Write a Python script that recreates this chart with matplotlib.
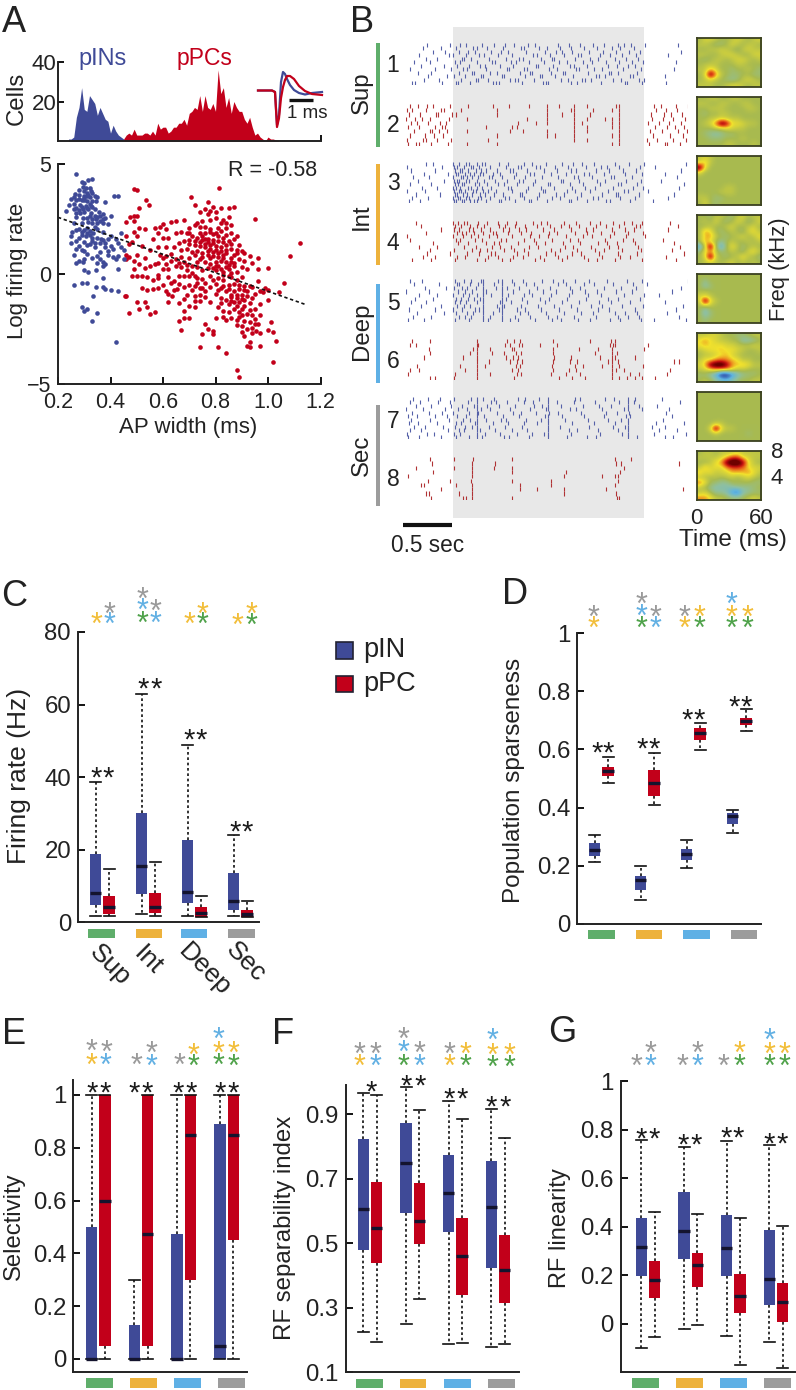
#!/usr/bin/env python3
import numpy as np
from matplotlib import pyplot as plt
from matplotlib.colors import LinearSegmentedColormap
from matplotlib.patches import Rectangle

plt.rcParams['font.family'] = ['Liberation Sans', 'DejaVu Sans']

W, H = 796, 1390
BLUE, RED = '#3F4A97', '#C2001A'
GROUP_COLORS = ['#5FAE6B', '#EDB23C', '#5FB0E5', '#9C9C9C']
STAR = {'y': '#F2BE3A', 'gr': '#9A9A9A', 'bl': '#62B0E3', 'g': '#4FA24A'}
TXT = '#222222'

# ---- panel A: histogram
hist_pin = [1, 1, 2, 12, 17, 27, 16, 15, 23, 21, 19, 13, 17, 14, 11, 10, 4, 8, 5, 3, 2, 1]     # from 0.24
hist_ppc = [1, 3, 4, 3, 6, 3, 3, 3, 4, 4, 3, 5, 3, 9, 6, 7, 7, 4, 5, 7, 7, 9, 9, 11, 8, 14, 15, 17, 16, 23,
            15, 23, 17, 16, 19, 15, 36, 24, 27, 17, 22, 14, 20, 17, 15, 15, 11, 9, 12, 7, 3, 4, 2, 1, 0,
            2, 1, 1, 0.5, 0.3]     # from 0.45

# ---- panel A: scatter
pin_points = [(.27, 4.55), (.33, 4.3), (.315, 4.25), (.29, 4.2), (.30, 4.15), (.295, 3.95), (.305, 3.9), (.32, 3.9),
              (.325, 3.75), (.31, 3.7), (.33, 3.7), (.28, 3.6), (.265, 3.65), (.30, 3.55), (.32, 3.5), (.35, 3.5),
              (.415, 3.55), (.43, 3.55), (.25, 3.4), (.27, 3.35), (.29, 3.35), (.31, 3.3), (.33, 3.3), (.345, 3.3),
              (.26, 3.2), (.285, 3.15), (.305, 3.1), (.325, 3.1), (.24, 3.15), (.38, 3.25), (.27, 3.0), (.295, 2.95),
              (.315, 2.95), (.34, 2.95), (.30, 2.8), (.285, 2.75), (.325, 2.75), (.355, 2.8), (.37, 2.7), (.23, 2.85),
              (.40, 2.65), (.27, 2.6), (.31, 2.55), (.345, 2.5), (.38, 2.55), (.36, 2.4), (.37, 2.3), (.39, 2.25),
              (.29, 2.3), (.33, 2.3), (.31, 2.1), (.35, 2.05), (.27, 2.0), (.255, 1.9), (.29, 1.9), (.335, 1.85),
              (.37, 1.9), (.32, 1.75), (.305, 1.7), (.28, 1.65), (.35, 1.65), (.39, 1.6), (.40, 1.7), (.44, 1.85),
              (.25, 1.7), (.27, 1.5), (.30, 1.45), (.33, 1.5), (.36, 1.4), (.42, 1.6), (.43, 1.4), (.28, 1.25),
              (.34, 1.2), (.38, 1.2), (.40, 1.25), (.45, 1.1), (.30, 1.05), (.36, 1.0), (.26, .85), (.35, .8),
              (.39, .85), (.41, .75), (.43, .8), (.28, .6), (.30, .65), (.33, .7), (.37, .55), (.38, .45), (.42, .65),
              (.45, .65), (.27, .5), (.295, .55), (.37, .35), (.345, .15), (.43, .2), (.30, .15), (.315, .1),
              (.37, -.2), (.26, -.5), (.29, -.4), (.31, -.4), (.345, -.6), (.37, -.6), (.38, -.7), (.40, -.75),
              (.43, -.8), (.335, -1.0), (.31, -1.6), (.29, -1.5), (.30, -1.7), (.35, -1.8), (.33, -2.15), (.42, -3.1),
              (.28, 3.8), (.30, 3.45), (.26, 2.95), (.34, 2.65), (.28, 2.05), (.32, 1.95), (.365, 1.6), (.31, 1.3),
              (.30, 3.35), (.31, 3.55), (.32, 3.2), (.29, 3.05), (.31, 3.0), (.33, 3.05), (.28, 2.9), (.32, 2.65),
              (.33, 2.5), (.35, 2.6), (.37, 2.5), (.36, 2.65), (.35, 2.3), (.34, 2.15), (.30, 2.0), (.29, 1.75),
              (.31, 1.85), (.33, 1.65), (.34, 1.4), (.37, 1.55), (.38, 1.4), (.32, 1.35), (.29, 1.1), (.31, .9),
              (.39, 1.05), (.41, 1.15), (.36, .65), (.35, .5), (.28, 3.4), (.26, 3.5), (.30, 3.75), (.315, 3.6),
              (.34, 3.55), (.27, 2.75), (.295, 2.55), (.315, 2.35), (.26, 2.3), (.25, 1.4), (.44, 1.2), (.27, 1.15)]

ppc_points = [(.49, 3.85), (.50, 3.8), (.815, 3.9), (.705, 3.5), (.535, 3.35), (.545, 3.15), (.51, 3.0), (.46, 2.35),
              (.475, 2.6), (.49, 2.65), (.50, 2.65), (.49, 2.4), (.46, 1.7), (.47, 1.35), (.48, 1.45), (.49, 1.9),
              (.51, 2.1), (.53, 2.05), (.50, 1.7), (.52, 1.25), (.46, .85), (.47, .75), (.49, .6), (.46, .65),
              (.50, .85), (.53, .7), (.55, 1.1), (.57, 2.1), (.59, 2.15), (.60, 2.25), (.61, 2.05), (.58, 1.85),
              (.56, 1.6), (.60, 1.65), (.62, 1.65), (.58, 1.2), (.61, 1.2), (.64, 1.2), (.59, .85), (.60, .7),
              (.61, .8), (.63, .6), (.66, .5), (.55, .35), (.57, .45), (.60, .2), (.62, .2), (.65, .35), (.67, .3),
              (.48, -.1), (.50, -.1), (.52, -.1), (.54, -.15), (.56, -.3), (.58, -.2), (.60, -.5), (.63, -.4),
              (.66, -.1), (.68, -.1), (.70, -.1), (.52, -.65), (.54, -.75), (.56, -.7), (.58, -.65), (.61, -.8),
              (.62, -.9), (.635, -1.0), (.655, -.7), (.46, -1.0), (.455, -1.0), (.47, -1.8), (.50, -1.3), (.53, -1.3),
              (.54, -1.5), (.51, -1.6), (.55, -1.85), (.57, -1.75), (.66, -1.35), (.62, -1.3), (.72, -1.5), (.70, -1.45),
              (.68, -1.7), (.68, -2.0), (.70, -2.0), (.66, -2.15), (.67, -2.55), (.72, -1.0), (.74, -.95), (.76, -.8),
              (.78, -.6), (.70, -.5), (.73, -.4), (.76, -.4), (.72, -.1), (.75, -.25), (.78, -.1), (.80, -.45),
              (.83, -.3), (.85, -.5), (.80, -.9), (.82, -1.1), (.84, -.8), (.87, -.8), (.89, -.7), (.90, -.95),
              (.92, -.8), (.78, -1.3), (.81, -1.5), (.83, -1.7), (.85, -1.4), (.87, -1.3), (.88, -1.45), (.90, -1.6),
              (.93, -1.35), (.95, -1.6), (.97, -1.4), (.80, -2.0), (.84, -2.1), (.86, -2.0), (.88, -2.1), (.90, -1.9),
              (.92, -1.85), (.94, -1.9), (.95, -2.05), (.97, -1.9), (.76, -2.3), (.77, -2.5), (.75, -2.75), (.79, -2.6),
              (.88, -2.35), (.90, -2.4), (.92, -2.5), (.94, -2.45), (.955, -2.6), (.97, -2.7), (.91, -2.85), (.93, -3.1),
              (.93, -3.35), (.92, -3.3), (.97, -3.3), (.90, -2.65), (.84, -3.6), (.74, -3.35), (.81, -3.35), (.79, -2.75),
              (1.03, -3.05), (1.02, -4.0), (.88, -4.4), (.89, -4.7), (1.0, -2.55), (1.02, -2.65), (1.01, -2.2),
              (1.0, -1.2), (.98, -.85), (.97, -.8), (.95, -.9), (.99, -.65), (1.0, -.75), (.96, -.35), (.94, -.6),
              (.91, -.55), (1.04, -.85), (1.06, -.4), (1.0, .25), (.96, .2), (.92, .2), (.90, .3), (.94, .5), (.96, .7),
              (.93, .8), (.91, .95), (.89, .65), (.87, .85), (.85, .2), (.87, .35), (.83, .1), (.81, .35), (.79, .25),
              (.77, .25), (.75, .15), (.73, .3), (.71, .35), (.69, .4), (.68, .55), (.70, .7), (.72, .85), (.74, .65),
              (.76, .55), (.78, .7), (.80, .55), (.82, .6), (.84, .55), (.86, .7), (.83, .85), (.81, .95), (.79, 1.0),
              (.77, 1.05), (.75, .95), (.73, 1.05), (.71, 1.0), (.69, 1.15), (.67, 1.1), (.70, 1.35), (.72, 1.3),
              (.74, 1.25), (.76, 1.35), (.78, 1.3), (.80, 1.25), (.82, 1.2), (.84, 1.1), (.86, 1.15), (.88, 1.1),
              (.90, 1.05), (.75, 1.55), (.77, 1.6), (.79, 1.55), (.81, 1.5), (.83, 1.45), (.85, 1.5), (.87, 1.6),
              (.73, 1.65), (.71, 1.7), (.69, 1.85), (.67, 1.9), (.65, 1.85), (.74, 1.85), (.76, 1.85), (.78, 1.9),
              (.80, 1.85), (.82, 1.95), (.84, 1.75), (.86, 1.85), (.88, 1.7), (.70, 2.1), (.72, 2.2), (.74, 2.15),
              (.76, 2.15), (.65, 2.4), (.68, 2.45), (.63, 2.35), (.84, 2.1), (.86, 2.2), (.82, 2.3), (.83, 2.45),
              (.95, 2.5), (.74, 2.8), (.76, 2.95), (.78, 2.85), (.80, 2.8), (.79, 3.05), (.77, 3.25), (.82, 3.0),
              (.85, 3.0), (.87, 3.05), (.72, 3.15), (1.12, 1.4), (1.085, .8), (.68, -.6), (.71, -.75), (.74, -.65),
              (.86, -.15), (.88, -.3), (.90, -.15), (.82, -.65), (.86, -1.05), (.88, -.95), (.91, -1.2), (.84, .95),
              (.73, .55), (.75, .75), (.77, .85), (.79, .8), (.81, .75), (.83, .7), (.85, .4), (.87, .5), (.76, 1.2),
              (.78, 1.15), (.80, 1.1), (.82, 1.05), (.84, 1.3), (.74, 1.45), (.77, 1.45), (.79, 1.4), (.81, 1.7),
              (.83, 1.65), (.75, 1.7), (.72, 1.5), (.70, 1.55), (.78, 2.05), (.76, 1.6), (.80, .15), (.82, .2), (.84, .3),
              (.78, .45), (.80, .35), (.86, .05), (.88, .1), (.83, -.05), (.85, -.1), (.81, -.2), (.79, -.3), (.87, -.45),
              (.89, -.5), (.91, -.75), (.93, -.55), (.85, -.7), (.83, -.55), (.81, -.75), (.86, -.95), (.88, -1.1),
              (.90, -1.15), (.92, -1.0), (.94, -1.1), (.84, -1.2), (.82, -1.35), (.86, -1.25), (.89, -1.3), (.91, -1.45),
              (.87, -1.6), (.85, -1.75), (.89, -1.75), (.93, -1.65), (.83, -1.95), (.91, -2.15), (.93, -2.2), (.95, -2.3),
              (.89, -1.95), (.94, -2.7), (.96, -2.3), (.65, .65), (.63, .9), (.67, .75), (.58, .5), (.61, .45), (.53, .25),
              (.51, .45), (.49, .2), (.58, -.05), (.62, -.15), (.64, -.35), (.66, -.45), (.71, .05), (.73, -.2), (.69, .15),
              (.72, -.55), (.76, -1.05), (.74, -1.25), (.75, -.65), (.69, -.95), (.72, -1.25), (.64, -.75), (.68, -1.15),
              (.70, 1.85), (.73, 2.3), (.75, 2.4), (.78, 2.45), (.80, 2.55), (.77, 2.7), (.85, 2.6), (.84, 2.3), (.86, 1.35),
              (.89, 1.3), (.91, .6), (.88, .95), (.86, .55), (.79, 1.8), (.81, 2.1), (.68, 1.5), (.66, 1.4)]

fit_x = [0.2, 1.145]
fit_y = [2.57, -1.41]

wave_t = [258, 266, 272, 275, 277, 279, 281, 283, 285, 287, 290, 294, 299, 305, 312, 322]
wave_pin = [90.5, 90.5, 90.5, 92, 125, 115, 82, 72, 74, 79, 85, 90, 93, 94.5, 93, 92]
wave_ppc = [90.5, 90.5, 90.5, 92, 127, 118, 98, 87, 80, 76, 76, 79, 86, 91, 94, 95]

# ---- panel B: spike times in 1/100 s, stimulus from 0 to 195
raster_1 = [
    [-42, -39, -11, 3, 5, 17, 41, 44, 47, 70, 92, 95, 97, 121, 127, 151, 176, 178, 193, 218],
    [-30, -14, 8, 23, 26, 36, 58, 63, 66, 83, 110, 117, 132, 135, 141, 163, 172, 190, 195],
    [-26, -6, 1, 12, 29, 31, 50, 52, 74, 89, 91, 104, 123, 146, 149, 155, 181, 184, 216],
    [-36, -22, 6, 19, 21, 38, 45, 68, 79, 81, 100, 112, 114, 138, 159, 161, 169, 188],
    [-44, -18, -2, 10, 14, 34, 55, 57, 72, 76, 98, 106, 126, 129, 144, 152, 174, 192, 226],
    [-33, -9, 4, 16, 28, 33, 48, 61, 85, 87, 102, 119, 124, 137, 158, 167, 179, 186],
    [-40, -24, 2, 7, 24, 40, 43, 59, 64, 78, 93, 108, 116, 133, 142, 156, 170, 183, 194, 228],
    [-28, -16, 9, 11, 18, 37, 54, 67, 71, 90, 101, 103, 125, 140, 148, 165, 177, 189],
    [-35, -4, 0, 13, 27, 32, 46, 60, 82, 86, 99, 113, 128, 131, 150, 160, 173, 187, 220],
    [-20, -8, 6, 15, 22, 39, 49, 56, 75, 94, 105, 111, 122, 139, 153, 166, 180, 191, 233],
    [-31, -12, 3, 20, 25, 35, 51, 69, 73, 88, 96, 109, 120, 134, 147, 162, 171, 185],
    [-27, -3, 7, 13, 30, 42, 53, 62, 77, 84, 107, 118, 130, 143, 154, 168, 175, 182, 196, 230],
]
raster_2 = [
    [-46, -38, -35, -22, -5, 14, 45, 162, 170, 200, 216, 219, 232],
    [-47, -31, -28, -16, -2, 36, 124, 137, 170, 198, 208, 225, 238],
    [-44, -29, -19, -10, 45, 96, 104, 124, 162, 170, 204, 222, 235],
    [-40, -24, -21, -14, -6, 14, 58, 71, 96, 124, 137, 170, 201, 213, 230, 239],
    [-46, -35, -18, -11, -8, 34, 60, 65, 124, 137, 162, 170, 206, 219, 227, 236],
    [-43, -37, -26, -13, -7, 66, 85, 96, 124, 132, 162, 170, 199, 210, 221, 233],
    [-48, -39, -32, -23, -4, 14, 76, 96, 124, 137, 155, 162, 170, 203, 214, 225, 237],
    [-45, -34, -17, -15, -1, 3, 45, 96, 111, 124, 140, 170, 202, 215, 223, 234],
    [-47, -42, -28, -12, -9, 8, 45, 96, 120, 124, 143, 162, 170, 207, 218, 229],
    [-44, -36, -27, -20, -3, 15, 41, 57, 78, 96, 108, 124, 137, 166, 170, 205, 212, 228, 240],
]
raster_3 = [
    [-45, -34, 1, 3, 9, 11, 17, 21, 24, 34, 47, 49, 63, 78, 80, 96, 118, 121, 137, 156, 160, 181, 204],
    [-42, -26, 0, 5, 7, 13, 16, 26, 29, 38, 53, 57, 72, 86, 101, 109, 127, 143, 148, 171, 186, 220],
    [-38, -13, 2, 4, 10, 14, 19, 28, 33, 42, 51, 68, 70, 88, 105, 113, 131, 152, 166, 169, 190, 226],
    [-47, -29, 1, 6, 8, 12, 20, 23, 31, 36, 44, 60, 75, 92, 94, 116, 125, 140, 158, 175, 179, 199],
    [-32, -16, 0, 3, 7, 15, 18, 25, 30, 39, 56, 59, 77, 90, 103, 122, 135, 145, 163, 184, 194, 231],
    [-44, -22, 2, 5, 9, 11, 22, 27, 35, 46, 52, 65, 82, 97, 99, 119, 133, 150, 168, 172, 188, 236],
    [-36, -9, 1, 4, 6, 13, 16, 24, 32, 43, 55, 67, 71, 84, 110, 112, 129, 147, 155, 177, 192, 212],
    [-41, -25, 0, 8, 10, 14, 19, 26, 37, 40, 50, 62, 74, 91, 107, 124, 128, 142, 161, 164, 183, 229],
    [-30, -5, 3, 5, 12, 17, 21, 28, 31, 41, 48, 64, 79, 83, 100, 115, 134, 139, 154, 176, 193, 216],
    [-43, -18, 2, 7, 9, 15, 23, 29, 34, 45, 58, 61, 76, 93, 106, 120, 126, 146, 159, 174, 187, 233],
    [-47, -11, 1, 4, 11, 18, 20, 27, 38, 54, 66, 69, 85, 89, 104, 117, 136, 151, 157, 170, 191, 206],
    [-28, -20, 0, 6, 13, 16, 25, 30, 33, 47, 56, 73, 81, 95, 111, 123, 132, 144, 165, 180, 195, 238],
]
raster_4 = [
    [-42, -22, 2, 25, 33, 50, 58, 84, 93, 111, 138, 147, 165, 193, 228],
    [-31, -18, 4, 12, 36, 46, 61, 71, 89, 107, 116, 134, 152, 171, 181, 218],
    [-27, -3, 14, 27, 39, 43, 65, 77, 95, 104, 122, 131, 149, 168, 188, 236],
    [-24, 1, 19, 28, 35, 52, 62, 73, 100, 109, 127, 145, 154, 173, 192, 224],
    [-35, -16, 11, 23, 40, 48, 59, 78, 87, 114, 123, 141, 159, 169, 189, 232],
    [-20, 5, 15, 34, 42, 47, 66, 85, 94, 112, 130, 148, 157, 167, 186, 226],
    [-44, 3, 7, 22, 30, 49, 54, 72, 83, 101, 119, 128, 155, 174, 184, 214],
    [-47, 0, 10, 18, 26, 37, 45, 60, 79, 88, 97, 115, 133, 142, 160, 177, 196],
    [-28, 4, 9, 13, 21, 31, 41, 44, 56, 69, 80, 98, 106, 125, 137, 151, 164, 179, 194],
    [-12, 1, 6, 16, 20, 29, 38, 51, 57, 67, 75, 92, 103, 121, 136, 143, 162, 176, 185, 220],
    [-33, 2, 8, 17, 24, 32, 47, 53, 63, 74, 86, 99, 110, 118, 129, 146, 156, 170, 187, 191, 230],
    [-38, 0, 5, 11, 14, 26, 35, 46, 55, 64, 82, 90, 96, 113, 126, 140, 150, 163, 175, 183, 193, 222],
]
raster_5 = [
    [-46, -30, 2, 16, 31, 36, 50, 58, 66, 84, 101, 110, 128, 140, 160, 171, 192, 205, 238],
    [-41, -22, 6, 12, 18, 31, 38, 50, 63, 79, 97, 106, 124, 146, 168, 179, 190, 231],
    [-37, -9, 3, 14, 20, 31, 41, 50, 68, 77, 95, 113, 131, 143, 165, 176, 188, 219],
    [-45, -18, 0, 9, 22, 27, 31, 47, 50, 65, 74, 90, 108, 127, 148, 159, 186, 228],
    [-33, -12, 4, 11, 17, 31, 45, 50, 52, 69, 87, 103, 121, 141, 152, 173, 194, 235],
    [-43, -28, 2, 7, 13, 25, 31, 48, 50, 59, 76, 94, 111, 129, 149, 161, 181, 216],
    [-39, -20, 3, 8, 15, 21, 28, 31, 50, 54, 70, 89, 98, 116, 136, 158, 169, 191],
    [-35, -16, 0, 10, 16, 24, 31, 39, 50, 56, 72, 81, 100, 118, 138, 151, 175, 195, 210],
    [-48, -25, 5, 12, 19, 31, 34, 50, 61, 78, 92, 105, 122, 135, 147, 166, 183, 224],
    [-29, -7, 1, 9, 14, 23, 31, 44, 50, 55, 67, 86, 99, 119, 130, 154, 172, 187, 233],
    [-40, -14, 4, 6, 17, 26, 31, 42, 50, 62, 75, 83, 107, 115, 134, 144, 163, 184, 198],
    [-44, -32, 2, 11, 18, 29, 31, 46, 50, 60, 71, 91, 102, 112, 125, 139, 157, 178, 193, 240],
]
raster_6 = [
    [-24, -18, 1, 24, 62, 108, 122, 135, 162, 170, 178, 186, 193, 206],
    [-46, 2, 24, 38, 65, 69, 100, 115, 130, 162, 181, 190, 219],
    [-44, -35, 12, 24, 60, 66, 102, 118, 126, 162, 166, 175, 222],
    [-37, 7, 24, 33, 64, 68, 101, 125, 133, 152, 162, 170, 194],
    [24, 37, 58, 65, 70, 102, 119, 127, 158, 162, 168, 226, 231],
    [-30, 10, 24, 54, 61, 66, 103, 120, 150, 162, 165, 186],
    [-24, 17, 24, 40, 52, 64, 69, 102, 145, 162, 167],
    [-25, 20, 24, 38, 60, 62, 102, 129, 148, 162, 195],
    [-44, -38, 24, 26, 53, 58, 67, 70, 89, 106, 160, 163, 165, 199],
    [-42, -23, 24, 55, 62, 68, 102, 140, 161, 165],
]
raster_7 = [
    [-46, -35, -12, 3, 16, 24, 30, 52, 57, 78, 97, 116, 137, 146, 179, 188, 216, 225],
    [-47, -27, -19, 1, 7, 24, 33, 48, 65, 81, 93, 97, 120, 150, 173, 179, 205, 238],
    [-44, -33, -5, 6, 11, 24, 28, 43, 60, 76, 97, 118, 127, 148, 168, 179, 210, 229],
    [-40, -29, -10, 2, 12, 19, 24, 37, 53, 70, 97, 109, 139, 163, 176, 179, 203, 217],
    [-45, -36, -16, 3, 8, 22, 24, 41, 56, 73, 86, 97, 122, 144, 165, 179, 207, 236],
    [-43, -23, -4, 10, 17, 24, 34, 49, 54, 75, 90, 97, 114, 138, 158, 172, 179, 214],
    [-46, -37, -18, -6, 4, 13, 24, 32, 51, 67, 94, 97, 111, 134, 154, 177, 181, 224],
    [-42, -25, -11, 0, 16, 24, 26, 45, 61, 69, 85, 98, 107, 131, 156, 167, 180, 218],
    [-48, -31, -8, 5, 14, 24, 29, 38, 58, 79, 95, 97, 119, 126, 152, 175, 179, 193, 221],
    [-38, -22, -2, 9, 21, 24, 35, 47, 63, 83, 91, 97, 110, 133, 149, 161, 179, 190, 208],
    [-44, -34, -15, -3, 15, 24, 39, 44, 55, 72, 82, 97, 106, 124, 145, 170, 179, 185, 232],
    [-41, -26, -13, 1, 18, 24, 31, 42, 66, 74, 88, 97, 125, 130, 155, 164, 179, 186, 213],
]
raster_8 = [
    [-22, 10, 13, 19, 60, 167, 170],
    [-28, -25, 6, 19, 113, 166],
    [-12, 19, 68, 86, 113, 156, 235],
    [-33, -30, 3, 19, 68, 100, 165],
    [-26, -3, 18, 60, 100, 168],
    [-46, 19, 113, 152, 165, 169],
    [-20, 19, 60, 115, 171],
    [-38, 1, 19, 42, 60, 175],
    [-21, 19, 43, 166, 172, 231],
    [-23, 1, 20, 60, 165, 182],
]
rasters = [raster_1, raster_2, raster_3, raster_4, raster_5, raster_6, raster_7, raster_8]

# receptive fields, tenths of the colour range
strf_1 = [[0, 2, 2, 1, 0, 0, 1, 2, 1, 0, 1, 2], [1, 1, 0, -1, -1, 0, 2, 1, 0, 1, 1, 0], [0, 0, 1, 1, 2, 1, 0, -1, 1, 2, 1, 1],
          [1, 1, 0, 0, 1, 2, 2, 1, 0, 0, 2, 2], [0, -1, 0, 1, 1, 0, 1, 2, 2, 1, 0, 1], [0, 1, 1, 1, 0, 0, 0, 1, 1, 0, 0, 0],
          [1, 1, 4, 2, 0, 0, -1, 0, 0, 1, 0, -1], [0, 2, 12, 5, 1, 0, -1, -1, 0, 0, -1, -1], [0, 1, 2, 1, 0, -1, -2, -1, 1, 2, 1, 0],
          [1, 1, 1, 0, 0, 1, 2, 2, 1, 0, 1, 1]]
strf_2 = [[0, 0, 1, 1, 0, 0, 1, 1, 0, 0, 0, 0], [1, 1, 0, 0, 1, 1, 0, 0, 1, 1, 0, 0], [0, 0, 1, 1, 1, 0, 0, 0, 0, 1, 1, 0],
          [0, -1, 0, 0, 1, 1, 0, 0, 0, 0, 0, 0], [0, 0, 1, 1, 2, 1, 1, 1, 0, 0, 0, 0], [0, 1, 2, 6, 12, 10, 3, 3, 2, 1, 1, 0],
          [0, 0, 0, 1, 1, 2, 2, 1, 1, 0, 0, 0], [0, -1, -2, -3, -2, -1, -1, 0, 0, 0, 0, 0], [0, 0, -1, -1, -1, 0, 0, 0, 1, 0, 0, 0],
          [0, 0, 0, 0, 0, 1, 1, 0, 0, 0, 1, 0]]
strf_3 = [[1, 2, 1, 0, 0, 0, 0, 0, 0, 0, 0, 0], [2, 4, 1, 0, 0, 0, 0, 0, 0, 0, 0, 0], [12, 3, 0, 0, 0, 0, 0, 0, 0, 0, 0, 0],
          [2, 0, 0, 0, 0, 0, 0, 0, 0, 0, 0, 0], [0, 0, 0, 0, 0, 0, 0, 0, 0, 0, 0, 0], [0, 0, 0, 0, 0, 0, 0, 0, 0, 0, 0, 0],
          [0, 0, 0, 0, 0, 1, 1, 0, 0, 0, 0, 0], [0, 0, 0, 0, 1, 1, 1, 0, 0, 0, 0, 0], [1, 1, 0, -1, -1, 0, 0, 0, 0, 0, 0, 0],
          [0, 2, 0, -1, 0, 0, 0, 0, 0, 0, 0, 0]]
strf_4 = [[0, 0, -1, 1, 1, 0, -1, 1, 2, 0, 1, 1], [0, 1, 0, 2, 0, -1, 0, 2, 1, -1, 0, 2], [0, 0, 1, 0, 0, 1, 2, 0, 0, 1, 2, 0],
          [0, 5, 3, 0, -1, 0, 1, 0, -1, 2, 3, 1], [0, 4, 5, 1, 0, -1, 0, 1, 2, 0, 1, 3], [0, 5, 2, 0, -2, 0, 1, 0, 0, 1, 0, 1],
          [-6, 1, 12, 0, -6, 0, 3, 1, -1, 0, 1, 0], [-1, 3, 4, 1, -1, 0, 1, 0, -1, 2, 3, 1], [0, 2, 12, 1, 0, -1, 0, 1, 3, 1, 0, -1],
          [0, 1, 2, 1, 0, 1, 2, 0, 1, 0, 1, 0]]
strf_5 = [[0, 0, 0, 0, 0, 0, 0, 0, 0, 0, 0, 0], [0, -2, 0, 0, 0, 0, 0, 0, 0, 0, 0, 0], [0, -3, -1, 0, 0, 0, 0, 0, 0, 0, 0, 0],
          [0, 1, 0, 0, 0, 0, 0, 0, 0, 0, 0, 0], [2, 2, 1, 0, 0, 0, 0, 0, 0, 0, 0, 0], [1, 12, 3, 1, 0, 0, 0, 0, 0, 0, 0, 0],
          [0, 1, 1, 0, 0, 0, 0, 0, 0, 0, 0, 0], [0, -4, -1, 0, 0, 0, 0, 0, 0, 0, 0, 0], [0, -3, -1, 0, 0, 0, 0, 0, 0, 0, 0, 0],
          [0, -1, 0, 0, 0, 0, 0, 0, 0, 0, 0, 0]]
strf_6 = [[1, 1, 2, 2, 1, 0, 0, -1, -1, 0, 1, 1], [3, 5, 3, 2, 1, 1, 0, 0, -3, -3, -2, 0], [3, 4, 3, 3, 3, 2, 2, 1, 1, 1, 2, 1],
          [1, 2, 3, 3, 4, 3, 3, 2, 1, 0, 0, 1], [0, 1, 1, 2, 3, 4, 2, 1, 0, 0, 0, 0], [1, 3, 3, 5, 6, 5, 4, 3, 1, 1, 0, 0],
          [2, 4, 11, 13, 13, 10, 5, 4, 4, 3, 1, 1], [1, 2, 3, 4, 4, 4, 3, 1, 1, 0, 0, 0], [-1, -1, -3, -6, -12, -12, -8, -4, -2, -1, -1, 0],
          [0, 1, 0, -2, -4, -5, -3, -1, 0, 0, 1, 1]]
strf_7 = [[0, 0, 0, 0, 0, 0, 0, 0, 0, 0, 0, 0], [0, 0, 0, 0, 0, 0, 0, 0, 0, 0, 0, 0], [0, 0, 0, 0, 0, 0, 0, 0, 0, 0, 0, 0],
          [0, 0, 0, 0, 0, 0, 0, 0, 0, 0, 0, 0], [0, 0, 0, 0, 0, 0, 0, 0, 0, 0, 0, 0], [0, 0, 0, 0, 0, 0, 0, 0, 0, 0, 0, 0],
          [0, 0, 0, 1, 1, 0, 0, 0, 0, 0, 0, 0], [0, 0, 2, 12, 3, 1, 1, 0, 0, 0, 0, 0], [0, 0, 0, 1, 0, 0, 0, 0, 0, -1, 0, 0],
          [0, 0, 0, 0, 0, 0, 0, 0, 0, 0, 0, 0]]
strf_8 = [[0, 1, 1, 0, 1, 1, 1, 2, 1, 1, 1, 1], [1, 1, 1, 1, 2, 4, 7, 7, 3, 2, 1, 1], [0, 0, 1, 3, 5, 11, 13, 13, 10, 3, 1, 0],
          [1, 4, 2, 3, 2, 5, 7, 7, 6, 3, 2, 2], [4, 2, 3, 1, 2, 2, 4, 4, 4, 5, 3, 1], [1, 1, 0, 1, 0, 1, 1, 0, 1, 2, 1, 0],
          [6, 3, 0, -1, -2, -2, 0, 0, 0, 0, -1, -1], [1, 0, -2, -3, -3, -3, -3, -2, -2, -2, -1, 0],
          [1, 2, 0, -2, -2, -3, -7, -9, -3, -2, -1, -1], [5, 5, 3, 1, 1, 0, -1, -1, 0, 1, 2, 1]]
strfs = [strf_1, strf_2, strf_3, strf_4, strf_5, strf_6, strf_7, strf_8]

# ---- panels C-G: whislo, q1, med, q3, whishi, one row per cortical group
rate_pin = [[1.7, 4.7, 8.1, 18.7, 38.8], [2.2, 7.8, 15.4, 30.1, 62.8], [1.7, 5.2, 8.4, 22.8, 48.9], [1.6, 3.3, 6.0, 13.5, 24.1]]
rate_ppc = [[1.6, 2.3, 4.3, 7.2, 14.7], [1.7, 2.6, 4.2, 8.2, 16.6], [1.4, 1.4, 2.7, 4.1, 7.3], [1.4, 1.4, 2.4, 3.4, 6.0]]
sparse_pin = [[.213, .232, .253, .28, .306], [.084, .116, .15, .166, .2], [.193, .221, .241, .259, .288], [.313, .343, .371, .38, .392]]
sparse_ppc = [[.486, .509, .526, .541, .575], [.41, .44, .485, .528, .588], [.598, .634, .656, .672, .692], [.662, .684, .696, .708, .738]]
select_pin = [[0, 0, 0, .5, 1], [0, 0, 0, .127, .3], [0, 0, 0, .475, 1], [0, 0, .05, .89, 1]]
select_ppc = [[0, .05, .6, 1, 1], [0, .05, .475, 1, 1], [0, .3, .85, 1, 1], [0, .45, .85, 1, 1]]
separ_pin = [[.224, .479, .605, .822, .965], [.251, .595, .749, .874, .985], [.188, .534, .656, .773, .94], [.177, .424, .613, .754, .916]]
separ_ppc = [[.194, .44, .548, .689, .958], [.326, .497, .568, .686, .913], [.192, .341, .46, .579, .885], [.189, .315, .418, .525, .827]]
linear_pin = [[-.099, .198, .316, .435, .758], [-.021, .268, .381, .545, .729], [-.052, .195, .311, .448, .755], [-.076, .077, .183, .387, .737]]
linear_ppc = [[-.054, .107, .179, .259, .462], [-.007, .153, .241, .293, .454], [-.169, .045, .113, .204, .435], [-.183, .008, .088, .169, .404]]

group_names = ['Sup', 'Int', 'Deep', 'Sec']

fig = plt.figure(figsize=(W / 100, H / 100), dpi=100)
over = fig.add_axes([0, 0, 1, 1], zorder=0)
over.set_xlim(0, W)
over.set_ylim(H, 0)
over.axis('off')


def px_axes(l, t, r, b):
    ax = fig.add_axes([l / W, 1 - b / H, (r - l) / W, (b - t) / H], zorder=1)
    ax.patch.set_visible(False)
    return ax


def rect(l, t, r, b, color, **kw):
    over.add_patch(Rectangle((l, t), r - l, b - t, facecolor=color, edgecolor='none', **kw))


def label(x, y, s, size=16, **kw):
    kw.setdefault('color', TXT)
    over.text(x, y, s, fontsize=size, ha=kw.pop('ha', 'center'), va=kw.pop('va', 'center'), **kw)


def stars(ox, oy, items):
    for zx, zy, c in items:
        col = STAR[c] if c else '#1a1a1a'
        size = 22 if c else 21
        em = size * 100 / 72
        over.text(ox + zx / 3, oy + zy / 3 + 0.5 * em, '*', fontsize=size, color=col, ha='center', va='baseline',
                  zorder=5)


def style(ax):
    for s in ('top', 'right'):
        ax.spines[s].set_visible(False)
    for s in ('left', 'bottom'):
        ax.spines[s].set_linewidth(1.4)
        ax.spines[s].set_color('#222222')


def box_panel(bounds, centers, off, data_pin, data_ppc, ylim, yticks, yticklabels, ylabel, ylabel_x, bars, bar_t, bar_b):
    l, t, r, b = bounds
    ax = px_axes(l, t, r, b)
    ax.set_xlim(l, r)   # x axis runs in pixels so that the pairs land where they were measured
    ax.set_ylim(*ylim)
    for rows, col, sign in ((data_pin, BLUE, -1), (data_ppc, RED, 1)):
        st = [dict(whislo=v[0], q1=v[1], med=v[2], q3=v[3], whishi=v[4], fliers=[]) for v in rows]
        ax.bxp(st, positions=[c + sign * off for c in centers], widths=11.5, capwidths=11, patch_artist=True,
               showfliers=False, manage_ticks=False,
               boxprops=dict(facecolor=col, edgecolor='none'),
               medianprops=dict(color='#14142e', linewidth=2.4, solid_capstyle='butt'),
               whiskerprops=dict(color='#111111', linewidth=1.2, linestyle=(0, (1.6, 1.6))),
               capprops=dict(color='#111111', linewidth=1.2))
    style(ax)
    ax.set_xticks([])
    ax.set_yticks(yticks)
    ax.set_yticklabels(yticklabels)
    ax.tick_params(axis='y', direction='in', length=5, width=1.3, labelsize=17.3, pad=5, labelcolor=TXT)
    label(ylabel_x, ylabel[1], ylabel[0], size=ylabel[2], rotation=90)
    for (x0, x1), col in zip(bars, GROUP_COLORS):
        rect(x0, bar_t, x1, bar_b, col)
    return ax


# ---- panel A
ax = px_axes(58, 62, 320.5, 141)
ax.fill_between(0.24 + 0.01 * np.arange(len(hist_pin)), hist_pin, color=BLUE, lw=0)
ax.fill_between(0.45 + 0.01 * np.arange(len(hist_ppc)), hist_ppc, color=RED, lw=0)
ax.set_xlim(0.2, 1.2)
ax.set_ylim(0, 40)
style(ax)
ax.set_xticks([1.2])
ax.set_xticklabels([])
ax.set_yticks([20, 40])
ax.tick_params(direction='in', length=4, width=1.3, labelsize=16, pad=1, labelcolor=TXT)
label(17, 98, 'Cells', 17.3, rotation=90)
label(103, 59, 'pINs', 17, color=BLUE)
label(204, 59, 'pPCs', 16.5, color=RED)
over.plot(wave_t, wave_pin, color=BLUE, lw=1.6)
over.plot(wave_t, wave_ppc, color=RED, lw=1.6)
over.plot([288.7, 313], [99.7, 99.7], color='#111111', lw=2.4, solid_capstyle='butt')
label(307, 114, '1 ms', 13.5)

ax = px_axes(58, 164, 320.5, 383.5)
px, py = zip(*ppc_points)
ax.scatter(px, py, s=11, color=RED, lw=0)
px, py = zip(*pin_points)
ax.scatter(px, py, s=11, color=BLUE, lw=0)
ax.plot(fit_x, fit_y, color='#111111', lw=1.2, ls=(0, (2, 1.6)))
ax.set_xlim(0.2, 1.2)
ax.set_ylim(-5, 5)
style(ax)
ax.set_xticks([0.2, 0.4, 0.6, 0.8, 1.0, 1.2])
ax.set_xticklabels(['0.2', '0.4', '0.6', '0.8', '1.0', '1.2'])
ax.set_yticks([-5, 0, 5])
ax.tick_params(direction='in', length=5, width=1.3, labelsize=15.5, pad=6, labelcolor=TXT)
ax.tick_params(axis='y', pad=5)
label(273, 170.5, 'R = -0.58', 15.5)
label(18, 271, 'Log firing rate', 16, rotation=90)
label(188, 428, 'AP width (ms)', 16)

# ---- panel B
rect(453, 27, 644, 517.7, '#E8E8E8')
raster_rows = [(43, 85), (104, 146), (162, 203), (221, 262), (279, 322), (339, 380), (397, 439), (457, 500)]
strf_rows = [(37.7, 87.3), (96.7, 146), (155.7, 205), (215, 264.3), (274, 322.7), (332.7, 381.7), (391.7, 441), (450.7, 500)]
num_y = [66, 125, 184, 244, 303, 362, 421, 480]
strf_cmap = LinearSegmentedColormap.from_list('strf', [
    (0.0, '#2438A0'), (0.22, '#5FB4E0'), (0.38, '#8FC0A0'), (0.5, '#A8BA50'), (0.66, '#F2E22C'),
    (0.8, '#E8601A'), (0.9, '#C21010'), (1.0, '#6E0000')])
for i, (raster, (t, b), (st, sb)) in enumerate(zip(rasters, raster_rows, strf_rows)):
    col = '#5560A8' if i % 2 == 0 else '#B03234'
    ax = px_axes(406, t, 688, b)
    pitch = (b - t) / len(raster)
    ax.eventplot(raster, colors=col, lineoffsets=np.arange(len(raster)), linelengths=4.2 / pitch, linewidths=0.8)
    ax.set_xlim(-48, 240)
    ax.set_ylim(-0.5, len(raster) - 0.5)
    ax.axis('off')
    label(393, num_y[i], str(i + 1), 16.5)
    ax = px_axes(696.7, st, 761, sb)
    ax.imshow(strfs[i], cmap=strf_cmap, vmin=-10, vmax=10, aspect='auto', interpolation='bicubic')
    ax.set_xticks([])
    ax.set_yticks([])
    for s in ax.spines.values():
        s.set_color('#3A4020')
        s.set_linewidth(1.3)
for (t, b), col, name, y in zip([(42.7, 146.7), (164, 265), (284, 382.7), (405, 506)], GROUP_COLORS, group_names,
                                [92.7, 216.7, 331.7, 455]):
    rect(375.7, t, 379.7, b, col)
    label(361.7, y, name, 17.3, rotation=90)
over.plot([402.7, 452], [525.3, 525.3], color='#111111', lw=3, solid_capstyle='butt')
label(428, 546, '0.5 sec', 16.3)
label(780, 269, 'Freq (kHz)', 15.8, rotation=90)
label(777, 453, '8', 16)
label(777, 478, '4', 16)
label(696.7, 518, '0', 16)
label(761.7, 518, '60', 16)
label(733, 540, 'Time (ms)', 17.5)

# ---- panels C-G
box_panel((78, 632, 259, 922.3), [102.3, 148.3, 194.3, 240.3], 6.7, rate_pin, rate_ppc, (0, 80 * 0.993),
          [0, 20, 40, 60, 80], ['0', '20', '40', '60', '80'], ('Firing rate (Hz)', 776, 19), 19,
          [(88, 115), (136, 162), (181, 207), (228, 255)], 928.7, 938)
for x, y, name in zip([110, 148, 205, 246], [965, 960, 970, 962], group_names):
    label(x, y, name, 19, rotation=-45, rotation_mode='anchor')
rect(336, 641.7, 352.7, 659, BLUE, linewidth=0)
rect(336, 675.7, 352.7, 692.3, RED, linewidth=0)
over.add_patch(Rectangle((336, 641.7), 16.7, 17.3, fill=False, edgecolor='#222233', lw=1.2))
over.add_patch(Rectangle((336, 675.7), 16.7, 16.6, fill=False, edgecolor='#222233', lw=1.2))
label(363, 650, 'pIN', 19.5, ha='left')
label(363, 684, 'pPC', 19.5, ha='left')

box_panel((577.3, 633, 760.7, 924), [601.3, 647.3, 693.3, 739.3], 6.7, sparse_pin, sparse_ppc, (0, 1),
          [0, .2, .4, .6, .8, 1], ['0', '0.2', '0.4', '0.6', '0.8', '1'], ('Population sparseness', 780, 17.5), 514,
          [(588, 615), (635.7, 662), (683, 710), (730.7, 757)], 930, 939)

box_panel((73.3, 1080, 247, 1371.7), [98.3, 141, 183.7, 226.7], 6.7, select_pin, select_ppc, (-.0487, 1.0 + .0568),
          [0, .2, .4, .6, .8, 1], ['0', '0.2', '0.4', '0.6', '0.8', '1'], ('Selectivity', 1226, 17.2), 14,
          [(86, 112.7), (130, 156.7), (174.3, 201), (218.3, 245)], 1377.7, 1387.7)

box_panel((345.7, 1085, 519.3, 1372.3), [370, 412.7, 455.3, 498], 6.7, separ_pin, separ_ppc, (.1, .1 + 862 / 968),
          [.1, .3, .5, .7, .9], ['0.1', '0.3', '0.5', '0.7', '0.9'], ('RF separability index', 1228, 17.3), 285,
          [(356, 382.7), (400, 426), (444, 470.7), (488, 514.7)], 1379, 1388)

box_panel((620.7, 1081.3, 795, 1371.7), [648, 690.7, 733.3, 776], 6.7, linear_pin, linear_ppc, (-.198, 1),
          [0, .2, .4, .6, .8, 1], ['0', '0.2', '0.4', '0.6', '0.8', '1'], ('RF linearity', 1228, 17), 560,
          [(632, 658.7), (676, 702.7), (720.3, 747), (764.3, 791)], 1378.3, 1388.3)

stars(0, 570, [(287, 607, None), (325, 607, None), (430, 340, None), (467, 340, None), (567, 493, None), (603, 493, None),
               (705, 768, None), (741, 768, None),
               (289, 146, 'y'), (330, 115, 'gr'), (330, 146, 'bl'), (427, 70, 'gr'), (427, 104, 'bl'), (467, 108, 'gr'),
               (427, 142, 'g'), (467, 144, 'bl'), (567, 146, 'y'), (607, 115, 'y'), (607, 146, 'g'),
               (713, 150, 'y'), (753, 117, 'y'), (753, 150, 'g')])
stars(490, 570, [(320, 530, None), (355, 530, None), (455, 520, None), (492, 520, None), (590, 432, None), (627, 432, None),
                 (731, 392, None), (768, 392, None),
                 (310, 124, 'gr'), (310, 158, 'y'), (454, 86, 'gr'), (454, 122, 'bl'), (497, 124, 'gr'), (454, 158, 'g'),
                 (497, 158, 'bl'), (583, 126, 'gr'), (627, 124, 'y'), (583, 158, 'y'), (627, 158, 'g'),
                 (724, 86, 'bl'), (724, 124, 'y'), (771, 124, 'y'), (724, 158, 'g'), (771, 158, 'g')])
stars(0, 1000, [(275, 262, None), (315, 262, None), (403, 262, None), (441, 262, None), (533, 262, None), (572, 262, None),
                (660, 262, None), (700, 262, None),
                (276, 138, 'gr'), (320, 140, 'gr'), (276, 180, 'y'), (318, 178, 'bl'), (453, 144, 'gr'), (410, 180, 'gr'),
                (453, 182, 'bl'), (579, 148, 'y'), (538, 180, 'gr'), (579, 182, 'g'),
                (655, 100, 'bl'), (655, 144, 'y'), (699, 144, 'y'), (655, 180, 'g'), (699, 182, 'g')])
stars(270, 1000, [(302, 258, None), (407, 240, None), (450, 240, None), (537, 280, None), (575, 280, None),
                  (664, 303, None), (704, 303, None),
                  (270, 146, 'gr'), (315, 146, 'gr'), (270, 183, 'y'), (315, 183, 'bl'), (401, 100, 'gr'), (401, 140, 'bl'),
                  (450, 143, 'gr'), (401, 182, 'g'), (450, 182, 'bl'), (537, 145, 'gr'), (587, 145, 'y'), (537, 182, 'y'),
                  (587, 182, 'g'), (668, 105, 'bl'), (668, 150, 'y'), (719, 150, 'y'), (668, 185, 'g'), (719, 185, 'g')])
stars(530, 1000, [(334, 400, None), (372, 400, None), (460, 418, None), (498, 418, None), (588, 395, None), (625, 395, None),
                  (717, 413, None), (755, 413, None),
                  (362, 143, 'gr'), (319, 183, 'gr'), (362, 183, 'bl'), (503, 143, 'gr'), (457, 183, 'gr'), (503, 183, 'bl'),
                  (627, 143, 'y'), (580, 183, 'gr'), (627, 183, 'g'), (719, 105, 'bl'), (719, 147, 'y'), (764, 147, 'y'),
                  (719, 183, 'g'), (764, 183, 'g')])

for s, x, y in [('A', 14, 22), ('B', 362, 22), ('C', 14, 596), ('D', 515, 595), ('E', 14, 1034), ('F', 283, 1034), ('G', 562, 1033)]:
    label(x, y, s, 26)

fig.savefig('out.png', dpi=100)
